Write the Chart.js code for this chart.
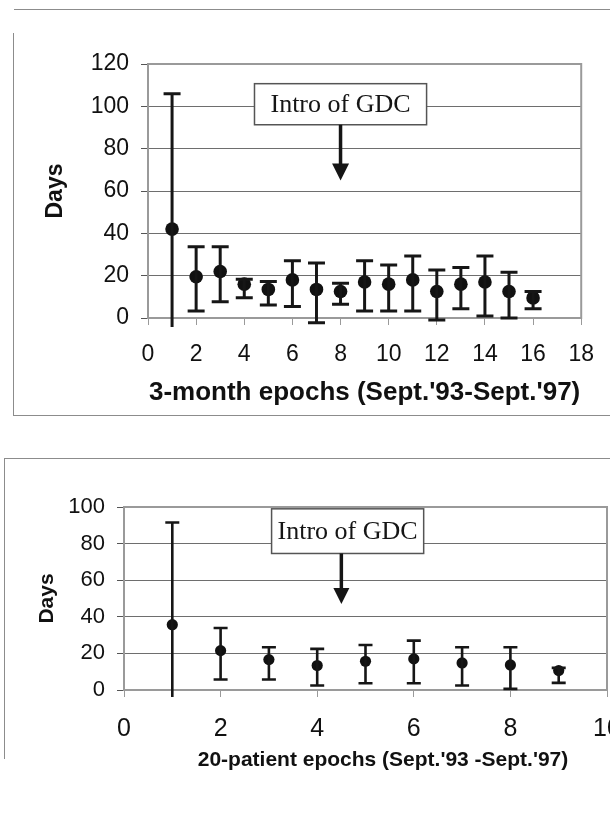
<!DOCTYPE html>
<html>
<head>
<meta charset="utf-8">
<script src="https://cdn.jsdelivr.net/npm/chart.js@4.4.0/dist/chart.umd.min.js"></script>
<style>
  html, body { margin: 0; padding: 0; background: #fff; overflow: hidden; width: 610px; height: 815px; }
  .frame { position: absolute; border-color: #8c8c8c; border-style: solid; border-width: 0; }
  #frame1top { left: 14px; top: 9px; width: 620px; height: 0; border-top-width: 1px; }
  #frame1 { left: 13px; top: 33px; width: 620px; height: 382px; border-width: 0 0 1px 1px; }
  #frame2 { left: 4px; top: 458px; width: 620px; height: 300px; border-width: 1px 0 0 1px; }
  canvas { position: absolute; left: 0; }
  #chart1 { top: 0; }
  #chart2 { top: 440px; }
</style>
</head>
<body>
<div class="frame" id="frame1top"></div>
<div class="frame" id="frame1"></div>
<div class="frame" id="frame2"></div>
<canvas id="chart1" width="610" height="420"></canvas>
<canvas id="chart2" width="640" height="340"></canvas>
<script>
// 3-month epochs: mean days with upper / lower error bar ends
const epochs3m = [1, 2, 3, 4, 5, 6, 7, 8, 9, 10, 11, 12, 13, 14, 15, 16];
const mean3m = [42, 19.5, 22, 16, 13.5, 18, 13.5, 12.5, 17, 16, 18, 12.5, 16, 17, 12.5, 9.5];
const high3m = [106, 33.7, 33.7, 18.3, 17.2, 27, 26, 16.4, 27, 25, 29.3, 22.7, 23.8, 29.3, 21.6, 12.5];
const low3m = [-22, 3.3, 7.7, 9.6, 6.1, 5.4, -2.2, 6.5, 3.3, 3.3, 3.3, -0.9, 4.4, 0.9, 0, 4.4];

// 20-patient epochs
const epochs20p = [1, 2, 3, 4, 5, 6, 7, 8, 9];
const mean20p = [35.7, 21.5, 16.6, 13.4, 15.7, 17, 14.8, 13.7, 10.6];
const high20p = [91.5, 33.9, 23.4, 22.5, 24.6, 27, 23.4, 23.4, 12.1];
const low20p = [-20, 5.7, 5.7, 2.5, 3.7, 3.7, 2.5, 0.6, 3.9];

const noteText = 'Intro of GDC';

const sans = "'Liberation Sans', Arial, sans-serif";
const serif = "'Liberation Serif', 'Times New Roman', serif";

// grey box round the plot area
const plotFrame = {
    id: 'plotFrame',
    beforeDatasetsDraw(chart) {
        const { ctx, chartArea: a } = chart;
        ctx.save();
        ctx.strokeStyle = '#9a9a9a';
        ctx.lineWidth = 2;
        ctx.strokeRect(a.left, a.top, a.right - a.left, a.bottom - a.top);
        ctx.restore();
    }
};

// vertical error bars with caps, allowed to run a little below the axis
const errorBars = {
    id: 'errorBars',
    afterDatasetsDraw(chart, args, opts) {
        const { ctx, chartArea: a, scales: { x, y } } = chart;
        const ds = chart.data.datasets[0];
        ctx.save();
        ctx.beginPath();
        ctx.rect(a.left - 30, a.top - 30, a.right - a.left + 60, a.bottom - a.top + 30 + opts.overhang);
        ctx.clip();
        ctx.strokeStyle = '#161616';
        ctx.lineWidth = opts.width;
        ds.data.forEach((p, i) => {
            const px = x.getPixelForValue(p.x);
            const top = y.getPixelForValue(ds.errHigh[i]);
            const bot = y.getPixelForValue(ds.errLow[i]);
            ctx.beginPath();
            ctx.moveTo(px, top);
            ctx.lineTo(px, bot);
            ctx.moveTo(px - opts.cap / 2, top);
            ctx.lineTo(px + opts.cap / 2, top);
            ctx.moveTo(px - opts.cap / 2, bot);
            ctx.lineTo(px + opts.cap / 2, bot);
            ctx.stroke();
        });
        ctx.restore();
    }
};

// "Intro of GDC" text box with a downward arrow
const gdcNote = {
    id: 'gdcNote',
    beforeDatasetsDraw(chart, args, o) {
        const { ctx, scales: { x, y } } = chart;
        ctx.save();
        ctx.font = '26px ' + serif;
        const tw = ctx.measureText(noteText).width;
        const cx = x.getPixelForValue(o.boxX);
        const top = y.getPixelForValue(o.boxTop);
        const bot = y.getPixelForValue(o.boxBottom);
        const left = cx - tw / 2 - o.padX;
        const w = tw + 2 * o.padX;
        ctx.fillStyle = '#fff';
        ctx.fillRect(left, top, w, bot - top);
        ctx.strokeStyle = '#555';
        ctx.lineWidth = 1.5;
        ctx.strokeRect(left, top, w, bot - top);
        ctx.fillStyle = '#151515';
        ctx.textAlign = 'center';
        ctx.textBaseline = 'middle';
        ctx.fillText(noteText, cx, (top + bot) / 2 + 1);

        const ax = x.getPixelForValue(o.arrowX);
        const tip = y.getPixelForValue(o.tip);
        ctx.strokeStyle = '#151515';
        ctx.lineWidth = 3.5;
        ctx.beginPath();
        ctx.moveTo(ax, bot);
        ctx.lineTo(ax, tip - o.head + 1);
        ctx.stroke();
        ctx.beginPath();
        ctx.moveTo(ax - o.head / 2, tip - o.head);
        ctx.lineTo(ax + o.head / 2, tip - o.head);
        ctx.lineTo(ax, tip);
        ctx.closePath();
        ctx.fill();
        ctx.restore();
    }
};

function makeChart(id, cfg) {
    return new Chart(document.getElementById(id), {
        type: 'scatter',
        data: {
            datasets: [{
                data: cfg.xs.map((v, i) => ({ x: v, y: cfg.mean[i] })),
                errHigh: cfg.high,
                errLow: cfg.low,
                backgroundColor: '#111',
                borderColor: '#111',
                borderWidth: 0,
                pointRadius: cfg.radius,
                pointHoverRadius: cfg.radius
            }]
        },
        options: {
            responsive: false,
            animation: false,
            devicePixelRatio: 1,
            layout: { padding: cfg.padding },
            plugins: {
                legend: { display: false },
                tooltip: { enabled: false },
                errorBars: { cap: cfg.cap, width: cfg.barWidth, overhang: cfg.overhang },
                gdcNote: cfg.note
            },
            scales: {
                x: {
                    type: 'linear',
                    min: 0,
                    max: cfg.xMax,
                    afterFit: s => { s.height = cfg.xHeight; },
                    ticks: { stepSize: 2, autoSkip: false, maxRotation: 0, padding: cfg.xTickPad, color: '#111', font: cfg.xTickFont },
                    grid: { drawOnChartArea: false, tickLength: 7, tickColor: '#9a9a9a' },
                    border: { display: false },
                    title: { display: true, text: cfg.xTitle, color: '#111', font: cfg.xTitleFont, padding: { top: 0, bottom: cfg.xTitlePad } }
                },
                y: {
                    min: 0,
                    max: cfg.yMax,
                    afterFit: s => { s.width = cfg.yWidth; },
                    ticks: { stepSize: 20, padding: 12, color: '#111', font: cfg.yTickFont },
                    grid: { color: '#6e6e6e', lineWidth: 1, tickColor: '#555', tickLength: 7 },
                    border: { display: false },
                    title: { display: true, text: 'Days', color: '#111', font: cfg.yTitleFont, padding: { top: cfg.yTitlePad, bottom: 0 } }
                }
            }
        },
        plugins: [plotFrame, gdcNote, errorBars]
    });
}

makeChart('chart1', {
    xs: epochs3m, mean: mean3m, high: high3m, low: low3m,
    radius: 6.8, cap: 17, barWidth: 3, overhang: 9,
    xMax: 18, yMax: 120,
    padding: { top: 64, right: 26, bottom: 0, left: 0 },
    xHeight: 102, yWidth: 148,
    xTickPad: 16, xTickFont: { family: sans, size: 23 },
    yTickFont: { family: sans, size: 23 },
    xTitle: "3-month epochs (Sept.'93-Sept.'97)",
    xTitleFont: { family: sans, size: 26, weight: 'bold' }, xTitlePad: 12,
    yTitleFont: { family: sans, size: 23, weight: 'bold' }, yTitlePad: 42,
    note: { boxX: 8, arrowX: 8, boxTop: 110.7, boxBottom: 91.3, tip: 65, head: 17, padX: 16 }
});

makeChart('chart2', {
    xs: epochs20p, mean: mean20p, high: high20p, low: low20p,
    radius: 5.6, cap: 14, barWidth: 2.6, overhang: 7,
    xMax: 10, yMax: 100,
    padding: { top: 67, right: 33, bottom: 0, left: 0 },
    xHeight: 90, yWidth: 124,
    xTickPad: 17, xTickFont: { family: sans, size: 25 },
    yTickFont: { family: sans, size: 22 },
    xTitle: "      20-patient epochs (Sept.'93 -Sept.'97)",
    xTitleFont: { family: sans, size: 21, weight: 'bold' }, xTitlePad: 7,
    yTitleFont: { family: sans, size: 21, weight: 'bold' }, yTitlePad: 35,
    note: { boxX: 4.63, arrowX: 4.5, boxTop: 99, boxBottom: 74.6, tip: 47, head: 16, padX: 6 }
});
</script>
</body>
</html>
